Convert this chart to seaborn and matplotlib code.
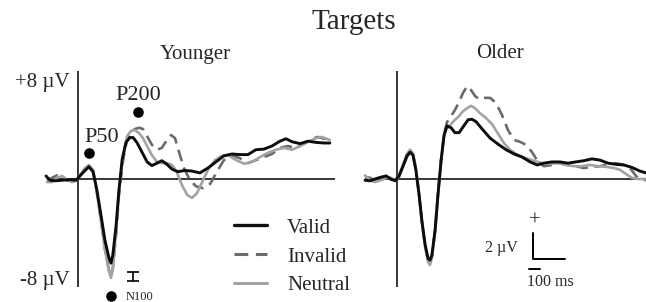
import numpy as np
import pandas as pd
import matplotlib
matplotlib.use("Agg")
import matplotlib.pyplot as plt
from matplotlib.lines import Line2D
import seaborn as sns

# ---------------- data (time in ms, amplitude in µV) ----------------
conditions = ["Valid", "Invalid", "Neutral"]
groups = ["Younger", "Older"]

young_valid_t = [-100,-88,-72,-50,-25,-6,6,22,34,47,59,72,84,97,103,109,119,128,138,150,
                 162,172,184,200,216,231,247,262,278,294,312,334,356,381,406,431,456,481,506,531,
                 556,581,606,631,650,669,694,719,744,769,787]
young_valid_v = [0.25,-0.1,-0.15,-0.1,-0.05,-0.1,0.25,0.7,1.0,0.6,-0.9,-3.0,-5.0,-6.5,-6.9,-6.2,-3.8,-0.9,1.6,3.0,
                 3.4,3.4,3.0,2.2,1.4,1.1,1.3,1.5,1.2,0.8,0.6,0.7,0.65,0.5,0.9,1.4,1.9,2.05,2.0,2.0,
                 2.4,2.45,2.7,3.1,3.3,3.05,2.9,3.1,3.0,2.95,2.95]

young_invalid_t = [-97,-81,-66,-50,-31,-6,6,22,34,47,59,72,84,97,103,109,119,128,141,153,
                   166,178,191,203,216,231,247,262,278,291,303,316,331,350,369,391,413,434,456,481,
                   506,531,556,581,606,631,656,681,706,731,750,769,787]
young_invalid_v = [-0.1,0.1,0.3,0.1,-0.15,-0.15,0.25,0.8,1.05,0.65,-1.1,-3.4,-5.7,-7.5,-8.0,-7.3,-4.6,-1.3,1.55,3.2,
                   3.85,4.1,4.2,4.1,3.5,2.8,2.4,2.55,3.2,3.6,3.35,2.2,0.9,-0.1,-0.6,-0.75,-0.4,0.6,1.55,1.95,
                   1.7,1.3,1.55,1.8,2.05,2.55,2.7,2.55,2.9,3.3,3.45,3.3,3.3]

young_neutral_t = [-97,-81,-66,-50,-34,-19,-6,6,22,34,47,59,72,84,97,103,109,119,128,141,
                   153,166,178,191,203,216,231,247,262,278,294,309,325,341,356,372,388,406,428,450,
                   469,494,519,544,569,594,619,644,669,694,719,744,762,787]
young_neutral_v = [-0.25,-0.25,0.1,0.25,-0.05,-0.25,-0.15,0.3,0.9,1.15,0.75,-1.1,-3.5,-5.8,-7.6,-8.1,-7.3,-4.35,-1.05,1.95,
                   3.5,3.95,4.0,3.75,3.35,2.7,1.95,1.4,1.3,1.3,1.15,0.55,-0.5,-1.3,-1.55,-1.15,-0.25,0.75,1.55,1.9,
                   1.95,1.55,1.25,1.4,1.8,2.15,2.4,2.55,2.4,2.7,3.05,3.35,3.45,3.2]

old_valid_t = [-100,-84,-69,-50,-34,-19,-6,6,19,31,41,50,59,69,78,88,97,103,109,119,
               128,138,147,156,169,181,194,206,222,234,247,266,291,316,341,366,391,416,438,459,
               484,509,534,559,584,609,634,659,684,709,734,759,778]
old_valid_v = [-0.1,-0.15,0.0,0.15,0.25,0.0,-0.15,0.25,1.05,1.9,2.2,1.95,0.75,-1.3,-3.5,-5.4,-6.5,-6.65,-6.25,-4.2,
               -1.3,1.55,3.6,4.35,4.2,3.8,3.8,4.25,4.85,4.9,4.7,4.1,3.35,2.85,2.4,2.05,1.8,1.4,1.15,1.3,
               1.4,1.4,1.3,1.4,1.5,1.65,1.55,1.3,1.2,1.15,0.95,0.65,0.5]

old_invalid_t = [-100,-84,-69,-50,-34,-19,-6,6,19,31,41,50,59,69,78,88,97,103,109,119,
                 128,138,147,156,169,181,194,206,219,231,244,256,272,291,309,328,347,366,384,403,
                 422,441,459,484,509,534,559,584,609,634,659,684,709,728,747,759,778]
old_invalid_v = [0.15,0.1,-0.15,0.1,0.25,-0.05,-0.25,0.15,1.05,1.8,2.2,1.95,0.75,-1.3,-3.5,-5.5,-6.65,-6.9,-6.4,-4.2,
                 -1.2,1.7,3.6,4.65,5.15,5.65,6.3,7.05,7.6,7.3,6.8,6.55,6.65,6.65,6.25,5.25,4.0,3.2,3.05,2.8,
                 2.2,1.4,1.05,1.15,1.3,1.15,1.05,0.9,1.0,1.05,1.2,1.3,1.15,0.9,0.25,0.0,-0.1]

old_neutral_t = [-100,-84,-69,-50,-34,-19,-6,6,19,31,41,50,59,69,78,88,97,103,109,119,
                 128,138,147,156,169,181,194,206,219,231,244,259,278,297,316,334,353,378,403,428,
                 453,478,503,528,553,578,603,628,653,678,697,716,734,753,778]
old_neutral_v = [0.3,-0.1,-0.25,-0.1,0.1,0.1,-0.1,0.25,1.2,2.05,2.4,2.1,0.9,-1.2,-3.5,-5.6,-6.8,-7.05,-6.5,-4.35,
                 -1.4,1.55,3.5,4.2,4.5,4.85,5.15,5.55,5.8,6.0,5.8,5.4,5.0,4.5,3.7,2.95,2.4,1.95,1.7,1.5,
                 1.3,1.25,1.3,1.15,1.05,1.05,1.15,1.05,1.0,0.9,0.75,0.4,0.1,0.0,0.0]

# component annotations (time ms, µV)
peak_labels = ["P50", "P200", "N100"]
peak_t = [34, 188, 103]
peak_v = [2.1, 5.5, -9.6]
n100_err_t = [172]
n100_err_v = [-8.0]
n100_err_half = [0.37]

# ---------------- build long table ----------------
series = {
    ("Younger", "Valid"): (young_valid_t, young_valid_v),
    ("Younger", "Invalid"): (young_invalid_t, young_invalid_v),
    ("Younger", "Neutral"): (young_neutral_t, young_neutral_v),
    ("Older", "Valid"): (old_valid_t, old_valid_v),
    ("Older", "Invalid"): (old_invalid_t, old_invalid_v),
    ("Older", "Neutral"): (old_neutral_t, old_neutral_v),
}
rows = []
for (g, c), (ts, vs) in series.items():
    for i, (t, v) in enumerate(zip(ts, vs)):
        rows.append({"group": g, "cond": c, "time": t, "uv": v, "idx": i})
df = pd.DataFrame(rows)

# ---------------- figure ----------------
sns.set_theme(style="white")
plt.rcParams["font.family"] = ["Liberation Serif", "DejaVu Serif"]

W, H = 646, 302
fig = plt.figure(figsize=(W / 100, H / 100), dpi=100)
fig.patch.set_facecolor("white")

PX_MS = 3.125   # ms per pixel
PX_UV = 12.2    # pixels per µV
ZERO_Y = 179

def fx(px):
    return px / W

def fy(py):
    return 1 - py / H

palette = {"Valid": "#0d0d0d", "Invalid": "#6b6b6b", "Neutral": "#a3a3a3"}
widths = {"Valid": 2.1, "Invalid": 1.9, "Neutral": 1.9}
DASH = (4.5, 2.5)

panels = [("Younger", 0, 335, 78, 48), ("Older", 335, 646, 397, 365)]
axes = {}
for g, left, right, x0, line_start in panels:
    ax = fig.add_axes([fx(left), 0, fx(right - left), 1])
    ax.set_xlim((left - x0) * PX_MS, (right - x0) * PX_MS)
    ax.set_ylim(-(H - ZERO_Y) / PX_UV, ZERO_Y / PX_UV)
    ax.axis("off")
    ax.hlines(0, (line_start - x0) * PX_MS, (right - x0) * PX_MS + 20, color="black", lw=1.1, zorder=1)
    ax.vlines(0, -(287 - ZERO_Y) / PX_UV, (ZERO_Y - 71) / PX_UV, color="black", lw=1.1, zorder=1)
    sub = df[df.group == g].sort_values(["cond", "idx"])
    for c in ["Invalid", "Neutral", "Valid"]:
        d = sub[sub.cond == c]
        sns.lineplot(data=d, x="time", y="uv", sort=False, estimator=None, ax=ax,
                     color=palette[c], lw=widths[c], legend=False,
                     zorder=3 if c == "Valid" else 2)
        if c == "Invalid":
            ax.lines[-1].set_dashes(DASH)
        ax.lines[-1].set_solid_capstyle("round")
    axes[g] = ax

axy = axes["Younger"]
axy.scatter(peak_t, peak_v, s=58, color="black", zorder=5, linewidths=0)
axy.errorbar(n100_err_t, n100_err_v, yerr=n100_err_half, fmt="none", ecolor="black",
             elinewidth=1.2, capsize=4, capthick=1.2)

# ---------------- text ----------------
fig.text(fx(354), fy(29), "Targets", ha="center", va="baseline", fontsize=21)
fig.text(fx(195), fy(59), "Younger", ha="center", va="baseline", fontsize=15)
fig.text(fx(500), fy(58), "Older", ha="center", va="baseline", fontsize=15)
fig.text(fx(70), fy(87), "+8 \u00b5V", ha="right", va="baseline", fontsize=15)
fig.text(fx(70), fy(285), "-8 \u00b5V", ha="right", va="baseline", fontsize=15)
fig.text(fx(102), fy(142), peak_labels[0], ha="center", va="baseline", fontsize=16)
fig.text(fx(138), fy(100), peak_labels[1], ha="center", va="baseline", fontsize=16)
fig.text(fx(126), fy(300), peak_labels[2], ha="left", va="baseline", fontsize=9)

# legend
handles = []
for c in conditions:
    h = Line2D([], [], color=palette[c], lw=widths[c] + 0.3)
    if c == "Invalid":
        h.set_dashes(DASH)
    handles.append(h)
leg = fig.legend(handles, conditions, loc="upper left", bbox_to_anchor=(fx(234), fy(218)),
                 frameon=False, fontsize=15, handlelength=1.6, handletextpad=0.95,
                 labelspacing=0.45, borderpad=0, borderaxespad=0)

# scale bar
fig.add_artist(Line2D([fx(533), fx(533), fx(565)], [fy(233), fy(259), fy(259)],
                      color="black", lw=1.4))
fig.add_artist(Line2D([fx(529), fx(540)], [fy(269), fy(269)], color="black", lw=1.4))
fig.text(fx(535), fy(221), "+", ha="center", va="center", fontsize=15)
fig.text(fx(518), fy(252), "2 \u00b5V", ha="right", va="baseline", fontsize=11.5)
fig.text(fx(527), fy(286), "100 ms", ha="left", va="baseline", fontsize=11.5)

fig.savefig("out.png", dpi=100, facecolor="white")
